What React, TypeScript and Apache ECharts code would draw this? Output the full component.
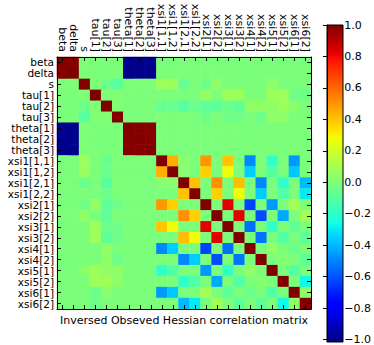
import React, { useEffect, useRef } from "react";
import * as echarts from "echarts";

const variables = [
  "beta", "delta", "s", "tau[1]", "tau[2]", "tau[3]", "theta[1]", "theta[2]", "theta[3]",
  "xsi1[1,1]", "xsi1[1,2]", "xsi1[2,1]", "xsi1[2,2]", "xsi2[1]", "xsi2[2]", "xsi3[1]", "xsi3[2]",
  "xsi4[1]", "xsi4[2]", "xsi5[1]", "xsi5[2]", "xsi6[1]", "xsi6[2]",
];

// lower triangle of the correlation matrix (row i holds columns 0..i)
const lowerTriangle: number[][] = [
  [1],
  [0.99, 1],
  [0.01, 0.01, 1],
  [0, 0, 0.01, 1],
  [0, 0, -0.04, 0.01, 1],
  [0, 0, -0.08, 0.01, 0.02, 1],
  [-0.98, -0.98, 0.01, 0, 0, 0, 1],
  [-0.98, -0.98, 0.01, 0, 0, 0, 0.99, 1],
  [-0.98, -0.98, 0.01, 0, 0, 0, 0.99, 0.99, 1],
  [0, 0, 0.08, 0, -0.05, 0.01, 0, 0, 0, 1],
  [0, 0, 0.07, 0, -0.04, 0, 0, 0, 0, 0.45, 1],
  [0, 0, -0.05, 0, -0.08, 0.01, 0, 0, 0, 0.03, 0.03, 1],
  [0, 0, 0, 0, -0.04, 0, 0, 0, 0, 0, 0, 0.41, 1],
  [0, 0, -0.03, 0.05, -0.07, -0.03, 0, 0, 0, 0.5, 0.38, 0, 0, 1],
  [0, 0, 0.05, 0, -0.07, 0, 0, 0, 0, 0, 0, 0.52, 0.38, 0, 1],
  [0, 0, 0, 0.08, -0.04, -0.03, 0, 0, 0, 0.4, 0.28, 0, 0, 0.83, 0, 1],
  [0, 0, 0, 0.08, -0.07, -0.03, 0, 0, 0, 0, 0, 0.42, 0.28, 0, 0.83, 0, 1],
  [0, 0, 0, 0, 0.05, 0, 0, 0, 0, -0.48, -0.35, 0, 0, -0.62, 0, -0.53, 0, 1],
  [0, 0, 0, 0, 0.05, -0.03, 0, 0, 0, 0, 0, -0.48, -0.35, 0, -0.6, 0, -0.52, 0, 1],
  [0, 0, 0.04, 0.08, 0.05, 0.05, 0, 0, 0, -0.18, -0.1, 0, 0, -0.45, 0, -0.18, 0, 0.05, 0, 1],
  [0, 0, 0, 0.08, 0.08, 0.04, 0, 0, 0, 0, 0, -0.18, -0.1, 0, -0.42, 0, -0.1, 0, 0.02, 0, 1],
  [0, 0, 0, -0.03, 0.03, 0, 0, 0, 0, -0.45, -0.36, 0, 0, 0.09, 0, -0.07, 0, -0.04, 0, -0.1, 0, 1],
  [0, 0, 0, -0.03, 0, 0, 0, 0, 0, 0, 0, -0.38, -0.29, 0, 0.09, 0, -0.07, 0, -0.07, 0, -0.26, 0.04, 1],
];

const colorbarTicks = [-1, -0.8, -0.6, -0.4, -0.2, 0, 0.2, 0.4, 0.6, 0.8, 1];
const title = "Inversed Obseved Hessian correlation matrix";

// matplotlib "jet" colormap segments
const jetRed: [number, number][] = [[0, 0], [0.35, 0], [0.66, 1], [0.89, 1], [1, 0.5]];
const jetGreen: [number, number][] = [[0, 0], [0.125, 0], [0.375, 1], [0.64, 1], [0.91, 0], [1, 0]];
const jetBlue: [number, number][] = [[0, 0.5], [0.11, 1], [0.34, 1], [0.65, 0], [1, 0]];

function seg(pts: [number, number][], t: number) {
  for (let i = 1; i < pts.length; i++) {
    if (t <= pts[i][0]) {
      const [x0, y0] = pts[i - 1];
      const [x1, y1] = pts[i];
      return y0 + ((t - x0) / (x1 - x0)) * (y1 - y0);
    }
  }
  return pts[pts.length - 1][1];
}
function jet(t: number) {
  const r = Math.round(seg(jetRed, t) * 255);
  const g = Math.round(seg(jetGreen, t) * 255);
  const b = Math.round(seg(jetBlue, t) * 255);
  return `rgb(${r},${g},${b})`;
}

const N_COLORS = 128;
const jetColors = Array.from({ length: N_COLORS + 1 }, (_, i) => jet(i / N_COLORS));

export default function App() {
  const ref = useRef<HTMLDivElement>(null);
  useEffect(() => {
    if (!ref.current) return;
    const chart = echarts.init(ref.current, undefined, { renderer: "svg" });
    const n = variables.length;
    const data: [number, number, number][] = [];
    for (let i = 0; i < n; i++) {
      for (let j = 0; j < n; j++) {
        const v = j <= i ? lowerTriangle[i][j] : lowerTriangle[j][i];
        data.push([j, i, v]);
      }
    }
    const font = "DejaVu Sans";
    const gridL = 57, gridT = 57, gridW = 254, gridH = 252;
    const cbL = 327, cbT = 25, cbW = 16, cbH = 317;
    const catAxisCommon = {
      type: "category" as const,
      data: variables,
      z: 10,
      axisLine: { show: true, lineStyle: { color: "#000", width: 1 } },
      axisTick: { show: true, inside: true, length: 4, alignWithLabel: true, interval: 0, lineStyle: { color: "#000" } },
      splitLine: { show: false },
    };
    chart.setOption({
      animation: false,
      grid: [
        { left: gridL, top: gridT, width: gridW, height: gridH },
        { left: cbL, top: cbT, width: cbW, height: cbH },
      ],
      xAxis: [
        {
          ...catAxisCommon,
          gridIndex: 0,
          position: "top",
          axisLabel: { interval: 0, rotate: 90, margin: 5, color: "#000", fontFamily: font, fontSize: 11, lineHeight: 10 },
        },
        {
          ...catAxisCommon,
          gridIndex: 0,
          position: "bottom",
          axisLabel: { show: false },
        },
        { type: "value", gridIndex: 1, show: false, min: 0, max: 1 },
      ],
      yAxis: [
        {
          ...catAxisCommon,
          gridIndex: 0,
          inverse: true,
          position: "left",
          axisLabel: { interval: 0, margin: 3, color: "#000", fontFamily: font, fontSize: 10.5, lineHeight: 10 },
        },
        {
          ...catAxisCommon,
          gridIndex: 0,
          inverse: true,
          position: "right",
          axisLabel: { show: false },
        },
        {
          type: "value",
          gridIndex: 1,
          min: colorbarTicks[0],
          max: colorbarTicks[colorbarTicks.length - 1],
          interval: 0.2,
          position: "right",
          z: 10,
          axisLine: { show: true, lineStyle: { color: "#000" } },
          axisTick: { show: true, inside: true, length: 4, lineStyle: { color: "#000" } },
          splitLine: { show: false },
          axisLabel: {
            margin: 4,
            color: "#000",
            fontFamily: font,
            fontSize: 11,
            formatter: (v: number) => v.toFixed(1).replace("-", "\u2212"),
          },
        },
      ],
      visualMap: {
        show: false,
        type: "continuous",
        min: -1,
        max: 1,
        dimension: 2,
        seriesIndex: 0,
        inRange: { color: jetColors },
      },
      graphic: [
        {
          type: "rect",
          z: -1,
          shape: { x: cbL, y: cbT, width: cbW, height: cbH },
          style: {
            fill: {
              type: "linear",
              x: 0, y: 0, x2: 0, y2: 1,
              colorStops: jetColors.map((c, i) => ({ offset: 1 - i / N_COLORS, color: c })).reverse(),
            },
            stroke: "#000",
            lineWidth: 1,
          },
        },
        {
          type: "text",
          style: {
            text: title,
            x: gridL + gridW / 2,
            y: 320,
            align: "center",
            verticalAlign: "middle",
            font: `11px "${font}"`,
            fill: "#000",
          },
        },
      ],
      series: [
        {
          type: "heatmap",
          xAxisIndex: 0,
          yAxisIndex: 0,
          data,
          itemStyle: { borderWidth: 0 },
          emphasis: { disabled: true },
          progressive: 0,
        },
        {
          type: "line",
          xAxisIndex: 2,
          yAxisIndex: 2,
          data: [],
        },
      ],
    });
    return () => chart.dispose();
  }, []);
  return (
    <div
      ref={ref}
      style={{ position: "fixed", left: 0, top: 0, width: 374, height: 345, background: "#fff" }}
    />
  );
}
